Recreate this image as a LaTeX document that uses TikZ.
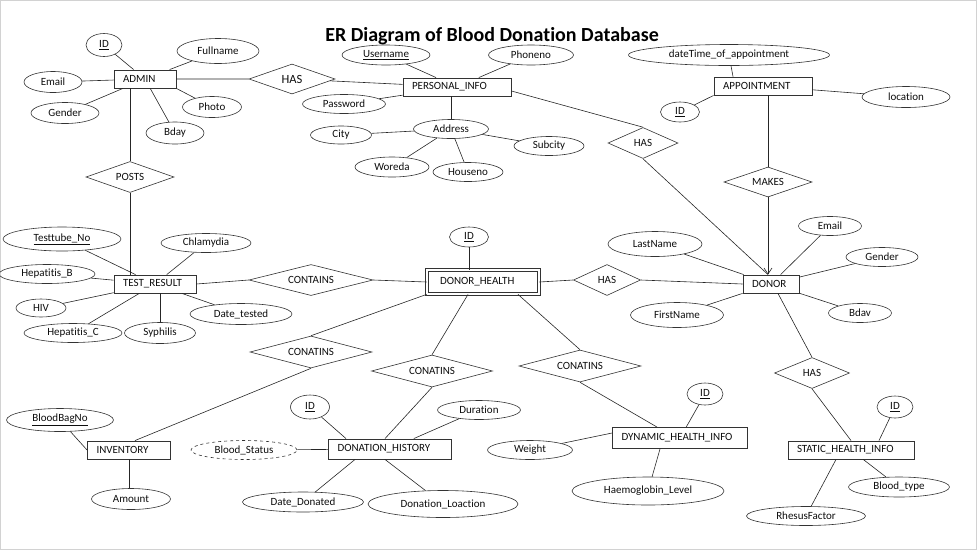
\documentclass[tikz,border=0pt]{standalone}
\usepackage{fontspec}
\setmainfont{Carlito}[Ligatures=NoCommon]
\usetikzlibrary{arrows.meta, positioning, shapes.geometric}

\begin{document}
\begin{tikzpicture}[
        x=1pt, y=-1pt,
        every node/.style={font=\fontsize{11}{13}\selectfont, text=black!95},
        entity/.style={draw=black!80, line width=0.9pt, minimum height=18pt, inner xsep=9pt, inner ysep=0pt, text width=#1, align=left},
        attr/.style={ellipse, draw=black!80, line width=0.6pt, inner sep=0pt},
        rel/.style={diamond, draw=black!80, line width=0.6pt, inner sep=0pt, aspect=4},
        link/.style={draw=black!85, line width=0.6pt},
        arr/.style={link, -{Straight Barb[length=6pt, width=8pt]}},
    ]
    \useasboundingbox (0,0) rectangle (977,550);
    \draw[gray!35, line width=1pt] (0.5,0.5) rectangle (976,549);

    \node[font=\fontsize{20}{22}\selectfont\bfseries, text=black] (title) at (492,36) {ER Diagram of Blood Donation Database};

    %% ===== Entities =====
    \node[entity=44pt] (admin) at (145,79) {ADMIN};
    \node[entity=90pt] (pinfo) at (457,87) {PERSONAL\_INFO};
    \node[entity=80pt] (appt) at (763,86) {APPOINTMENT};
    \node[entity=64pt] (test) at (155,284) {TEST\_RESULT};
    \node[entity=86pt, inner xsep=13pt, minimum height=24pt, double, double distance=2.5pt, line width=0.8pt] (dh) at (483,282) {DONOR\_HEALTH};
    \node[entity=38pt] (donor) at (771,284) {DONOR};
    \node[entity=65pt] (inv) at (129,450) {INVENTORY};
    \node[entity=105pt, minimum height=20pt] (dhist) at (390,449) {DONATION\_HISTORY};
    \node[entity=117pt, minimum height=21pt] (dyn) at (680,438) {DYNAMIC\_HEALTH\_INFO};
    \node[entity=108pt] (static) at (851,450) {STATIC\_HEALTH\_INFO};

    %% ===== Relationships =====
    \node[rel, minimum width=86pt, minimum height=30pt, font=\fontsize{12.5}{14}\selectfont] (has1) at (292,79) {HAS};
    \node[rel, minimum width=88pt, minimum height=31pt] (posts) at (130,177) {POSTS};
    \node[rel, minimum width=70pt, minimum height=31pt] (has2) at (643,143) {HAS};
    \node[rel, minimum width=88pt, minimum height=30pt] (makes) at (768,182) {MAKES};
    \node[rel, minimum width=124pt, minimum height=31pt] (contains) at (311,280) {CONTAINS};
    \node[rel, minimum width=67pt, minimum height=31pt] (has3) at (607,280) {HAS};
    \node[rel, minimum width=122pt, minimum height=32pt] (con1) at (311,352) {CONATINS};
    \node[rel, minimum width=121pt, minimum height=32pt] (con2) at (432,371) {CONATINS};
    \node[rel, minimum width=122pt, minimum height=32pt] (con3) at (580,366) {CONATINS};
    \node[rel, minimum width=75pt, minimum height=31pt] (has4) at (812,373) {HAS};

    %% ===== Admin attributes =====
    \node[attr, minimum width=36pt, minimum height=23pt] (aid) at (104,45) {\underline{ID}};
    \node[attr, minimum width=82pt, minimum height=25pt] (afull) at (218,51) {Fullname};
    \node[attr, minimum width=58pt, minimum height=21pt] (aemail) at (53,82) {Email};
    \node[attr, minimum width=68pt, minimum height=21pt] (agender) at (65,113) {Gender};
    \node[attr, minimum width=59pt, minimum height=21pt] (aphoto) at (212,107) {Photo};
    \node[attr, minimum width=58pt, minimum height=22pt] (abday) at (175,133) {Bday};

    %% ===== Personal info attributes =====
    \node[attr, minimum width=88pt, minimum height=20pt] (uname) at (386,55) {\underline{Username}};
    \node[attr, minimum width=85pt, minimum height=20pt] (phone) at (531,55) {Phoneno};
    \node[attr, minimum width=83pt, minimum height=19pt] (pass) at (344,104) {Password};
    \node[attr, minimum width=75pt, minimum height=19pt] (addr) at (451,129) {Address};
    \node[attr, minimum width=61pt, minimum height=18pt] (city) at (341,135) {City};
    \node[attr, minimum width=70pt, minimum height=19pt] (subcity) at (549,146) {Subcity};
    \node[attr, minimum width=74pt, minimum height=20pt] (woreda) at (392,167) {Woreda};
    \node[attr, minimum width=70pt, minimum height=19pt] (house) at (468,172) {Houseno};

    %% ===== Appointment attributes =====
    \node[attr, minimum width=201pt, minimum height=21pt] (dtime) at (729,55) {dateTime\_of\_appointment};
    \node[attr, minimum width=88pt, minimum height=21pt] (loc) at (906,97) {location};
    \node[attr, minimum width=39pt, minimum height=20pt] (apid) at (680,112) {\underline{ID}};

    %% ===== Test result attributes =====
    \node[attr, minimum width=118pt, minimum height=24pt] (tube) at (62,239) {\underline{Testtube\_No}};
    \node[attr, minimum width=90pt, minimum height=19pt] (chlam) at (206,243) {Chlamydia};
    \node[attr, minimum width=96pt, minimum height=19pt] (hepb) at (47,274) {Hepatitis\_B};
    \node[attr, minimum width=50pt, minimum height=18pt] (hiv) at (41,308) {HIV};
    \node[attr, minimum width=98pt, minimum height=19pt] (hepc) at (73,333) {Hepatitis\_C};
    \node[attr, minimum width=71pt, minimum height=21pt] (syph) at (160,333) {Syphilis};
    \node[attr, minimum width=102pt, minimum height=21pt] (dtest) at (241,314) {Date\_tested};

    %% ===== Donor health / donor attributes =====
    \node[attr, minimum width=39pt, minimum height=20pt] (dhid) at (469,237) {\underline{ID}};
    \node[attr, minimum width=94pt, minimum height=25pt] (lname) at (655,244) {LastName};
    \node[attr, minimum width=63pt, minimum height=19pt] (demail) at (830,226) {Email};
    \node[attr, minimum width=72pt, minimum height=19pt] (dgender) at (882,257) {Gender};
    \node[attr, minimum width=93pt, minimum height=25pt] (fname) at (677,315) {FirstName};
    \node[attr, minimum width=63pt, minimum height=19pt] (bdav) at (860,313) {Bdav};

    %% ===== Inventory / donation history attributes =====
    \node[attr, minimum width=107pt, minimum height=23pt] (bbn) at (60,420) {\underline{BloodBagNo}};
    \node[attr, minimum width=79pt, minimum height=21pt] (amount) at (131,499) {Amount};
    \node[attr, minimum width=39pt, minimum height=24pt] (hid) at (310,407) {\underline{ID}};
    \node[attr, minimum width=83pt, minimum height=19pt] (dur) at (479,410) {Duration};
    \node[attr, dashed, minimum width=106pt, minimum height=19pt] (bstat) at (244,450) {Blood\_Status};
    \node[attr, minimum width=121pt, minimum height=20pt] (ddon) at (303,502) {Date\_Donated};
    \node[attr, minimum width=150pt, minimum height=27pt] (dloc) at (443,504) {Donation\_Loaction};

    %% ===== Health info attributes =====
    \node[attr, minimum width=36pt, minimum height=22pt] (yid) at (705,394) {\underline{ID}};
    \node[attr, minimum width=85pt, minimum height=19pt] (weight) at (530,450) {Weight};
    \node[attr, minimum width=152pt, minimum height=28pt] (haemo) at (648,491) {Haemoglobin\_Level};
    \node[attr, minimum width=36pt, minimum height=22pt] (sid) at (895,407) {\underline{ID}};
    \node[attr, minimum width=101pt, minimum height=20pt] (btype) at (899,487) {Blood\_type};
    \node[attr, minimum width=119pt, minimum height=19pt] (rhesus) at (806,516) {RhesusFactor};

    %% Admin links
    \draw[link] (aid) -- (admin);
    \draw[link] (afull) -- (admin);
    \draw[link] (aemail) -- (admin);
    \draw[link] (agender) -- (admin);
    \draw[link] (aphoto) -- (admin.south east);
    \draw[link] (abday) -- (admin);
    \draw[link] (admin) -- (has1) -- (pinfo);
    \draw[link] (posts.north) -- (posts.north |- admin.south);
    \draw[link] (posts.south) -- (posts.south |- test.north);

    %% Personal info links
    \draw[link] (uname) -- (pinfo);
    \draw[link] (phone) -- (pinfo);
    \draw[link] (pass) -- (pinfo);
    \draw[link] (addr.north) -- (addr.north |- pinfo.south);
    \draw[link] (city) -- (addr);
    \draw[link] (woreda) -- (addr);
    \draw[link] (house) -- (addr);
    \draw[link] (subcity) -- (addr);
    \draw[link] ([yshift=-4pt]pinfo.east) -- (has2.north);

    %% Appointment links
    \draw[link] (dtime) -- ([xshift=-30pt]appt.north);
    \draw[link] (loc) -- (appt);
    \draw[link] (apid) -- (appt.south west);
    \draw[link] (makes.north) -- (makes.north |- appt.south);
    \coordinate (donortop) at (makes.south |- donor.north);
    \draw[arr] (makes.south) -- (donortop);
    \draw[link] (has2.south) -- (donortop);

    %% Test result links
    \draw[link] (tube) -- (test);
    \draw[link] (chlam) -- (test);
    \draw[link] (hepb) -- (test);
    \draw[link] (hiv) -- (test);
    \draw[link] (hepc) -- (test);
    \draw[link] (syph.north) -- (syph.north |- test.south);
    \draw[link] (dtest) -- (test);
    \draw[link] (test.east) -- (contains.west);
    \draw[link] (contains.east) -- (dh.west);

    %% Donor health links
    \draw[link] (dhid.south) -- (dhid.south |- dh.north);
    \draw[link] (dh.east) -- (has3.west);
    \draw[link] (has3.east) -- (donor.west);
    \draw[link] (dh.south west) -- (con1.north);
    \draw[link] (con1.south) -- ([xshift=6pt]inv.north);
    \draw[link] ([xshift=-15pt]dh.south) -- (con2.north);
    \draw[link] (con2.south) -- ([xshift=-5pt]dhist.north);
    \draw[link] ([xshift=35pt]dh.south) -- (con3.north);
    \draw[link] (con3.south) -- ([xshift=-23pt]dyn.north);

    %% Donor links
    \draw[link] (lname) -- (donor);
    \draw[link] (demail) -- (donor);
    \draw[link] (dgender) -- (donor);
    \draw[link] (fname) -- (donor);
    \draw[link] (bdav) -- (donor);
    \draw[link] ([xshift=7pt]donor.south) -- (has4.north);
    \draw[link] (has4.south) -- (static.north);

    %% Inventory / donation history links
    \draw[link] (bbn) -- (inv.west);
    \draw[link] (inv.south) -- (inv.south |- amount.north);
    \draw[link] (hid) -- ([xshift=-44pt]dhist.north);
    \draw[link] (dur) -- (dhist);
    \draw[link] (bstat) -- (dhist);
    \draw[link] (ddon) -- ([xshift=-35pt]dhist.south);
    \draw[link] (dloc) -- ([xshift=-5pt]dhist.south);

    %% Health info links
    \draw[link] (yid) -- (dyn);
    \draw[link] (weight) -- ([yshift=5pt]dyn.west);
    \draw[link] (haemo) -- ([xshift=-20pt]dyn.south);
    \draw[link] (sid) -- ([xshift=28pt]static.north);
    \draw[link] (btype) -- (static);
    \draw[link] (rhesus) -- ([xshift=-15pt]static.south);

\end{tikzpicture}
\end{document}
